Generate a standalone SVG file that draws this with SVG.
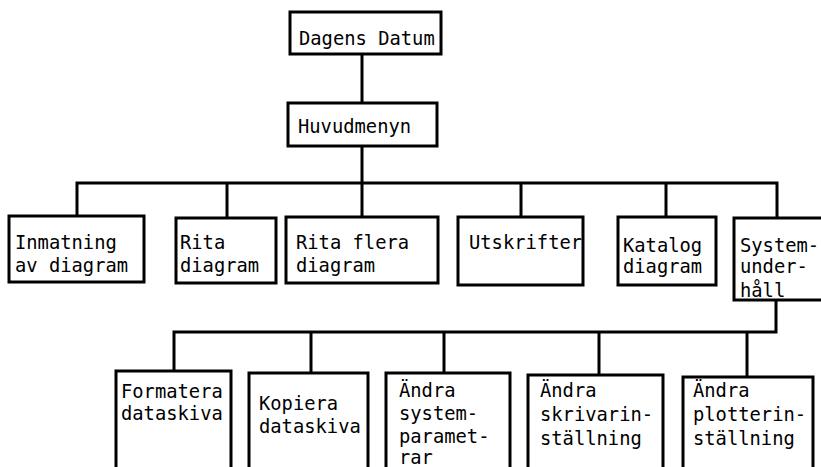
<svg xmlns="http://www.w3.org/2000/svg" width="821" height="467" viewBox="0 0 821 467">
<style>
.box{fill:#fff;stroke:#000;stroke-width:3}
.ln{fill:none;stroke:#000;stroke-width:3}
text{font-family:"DejaVu Sans Mono","Liberation Mono",monospace;font-size:18.8px;fill:#000}
</style>
<rect width="821" height="467" fill="#fff"/>
<g id="connectors">
<path class="ln" d="M362,54 V103"/>
<path class="ln" d="M362,146 V183"/>
<path class="ln" d="M77,216 V183 H777 V218"/>
<path class="ln" d="M227,183 V218"/>
<path class="ln" d="M362,183 V217"/>
<path class="ln" d="M521,183 V217"/>
<path class="ln" d="M666,183 V217"/>
<path class="ln" d="M776,300 V332 H174 V371"/>
<path class="ln" d="M311,332 V373"/>
<path class="ln" d="M444,332 V373"/>
<path class="ln" d="M599,332 V375"/>
<path class="ln" d="M747,332 V377"/>
</g>
<g id="dagens-datum"><rect class="box" x="290" y="12" width="151" height="42"/><text x="299" y="45">Dagens Datum</text></g>
<g id="huvudmenyn"><rect class="box" x="288" y="103" width="149" height="43"/><text x="298" y="133">Huvudmenyn</text></g>
<g id="inmatning"><rect class="box" x="9" y="216" width="135" height="66"/><text x="15" y="249">Inmatning</text><text x="15" y="272">av diagram</text></g>
<g id="rita"><rect class="box" x="176" y="218" width="100" height="65"/><text x="180" y="249">Rita</text><text x="180" y="272">diagram</text></g>
<g id="rita-flera"><rect class="box" x="286" y="217" width="152" height="66"/><text x="296" y="249">Rita flera</text><text x="296" y="272">diagram</text></g>
<g id="utskrifter"><rect class="box" x="458" y="217" width="125" height="68"/><text x="469" y="249">Utskrifter</text></g>
<g id="katalog"><rect class="box" x="618" y="217" width="98" height="68"/><text x="623" y="252">Katalog</text><text x="623" y="273">diagram</text></g>
<g id="systemunderhall"><rect class="box" x="734" y="218" width="90" height="82"/><text x="740" y="252">System-</text><text x="740" y="273">under-</text><text x="740" y="297">håll</text></g>
<g id="formatera"><rect class="box" x="116" y="371" width="115" height="100"/><text x="121" y="398">Formatera</text><text x="121" y="420">dataskiva</text></g>
<g id="kopiera"><rect class="box" x="249" y="373" width="119" height="100"/><text x="259" y="410">Kopiera</text><text x="259" y="433">dataskiva</text></g>
<g id="andra-system"><rect class="box" x="386" y="373" width="124" height="100"/><text x="399" y="397">Ändra</text><text x="399" y="420">system-</text><text x="399" y="443">paramet-</text><text x="399" y="464">rar</text></g>
<g id="andra-skrivar"><rect class="box" x="528" y="375" width="135" height="100"/><text x="540" y="397">Ändra</text><text x="540" y="421">skrivarin-</text><text x="540" y="445">ställning</text></g>
<g id="andra-plotter"><rect class="box" x="683" y="377" width="130" height="100"/><text x="693" y="397">Ändra</text><text x="693" y="421">plotterin-</text><text x="693" y="445">ställning</text></g>
</svg>
